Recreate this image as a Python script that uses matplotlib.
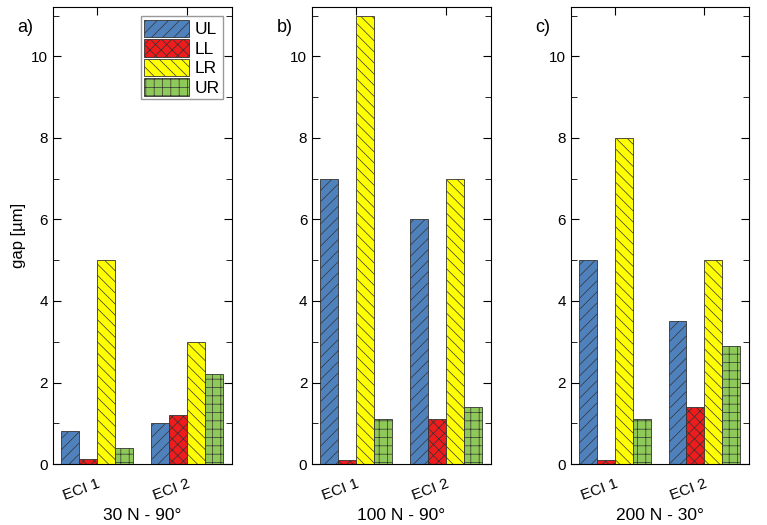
import numpy as np
import matplotlib.pyplot as plt
from matplotlib.ticker import MultipleLocator

plt.rcParams['font.family'] = ['Liberation Sans', 'DejaVu Sans']
plt.rcParams['hatch.linewidth'] = 0.5

categories = ["ECI 1", "ECI 2"]
series = ["UL", "LL", "LR", "UR"]
titles = ["30 N - 90°", "100 N - 90°", "200 N - 30°"]
panel_tags = ["a)", "b)", "c)"]

ul = [[0.8, 1.0], [7.0, 6.0], [5.0, 3.5]]
ll = [[0.12, 1.2], [0.1, 1.1], [0.1, 1.4]]
lr = [[5.0, 3.0], [11.0, 7.0], [8.0, 5.0]]
ur = [[0.4, 2.2], [1.1, 1.4], [1.1, 2.9]]

colors = ["#4f81bd", "#ee1c1c", "#ffff00", "#8fc95a"]
hatches = ["///", "xxx", "\\\\\\", "++"]

fig = plt.figure(figsize=(7.67, 5.25), dpi=100)
lefts = [0.069, 0.407, 0.744]
x = np.arange(1, len(categories) + 1)
w = 0.2

for i in range(3):
    ax = fig.add_axes([lefts[i], 0.116, 0.233, 0.870])
    vals = [ul[i], ll[i], lr[i], ur[i]]
    for j in range(4):
        ax.bar(x + (j - 1.5) * w, vals[j], w, color=colors[j], hatch=hatches[j],
               edgecolor="#333333", linewidth=0.6, label=series[j])
    ax.set_xlim(0.51, 2.5)
    ax.set_ylim(0, 11.2)
    ax.yaxis.set_major_locator(MultipleLocator(2))
    ax.yaxis.set_minor_locator(MultipleLocator(1))
    ax.set_xticks(x)
    ax.set_xticklabels(categories, rotation=20, fontsize=11, ha="right",
                       rotation_mode="anchor")
    ax.tick_params(axis="y", which="both", right=True, direction="in", labelsize=11)
    ax.tick_params(axis="y", which="major", length=6)
    ax.tick_params(axis="y", which="minor", length=4)
    ax.tick_params(axis="x", top=True, bottom=False, direction="in", length=6, pad=9)
    ax.set_xlabel(titles[i], fontsize=12.5, labelpad=4)
    ax.text(-0.2, 0.975, panel_tags[i], transform=ax.transAxes, fontsize=13,
            va="top", ha="left")
    if i == 0:
        ax.set_ylabel("gap [µm]", fontsize=12)
        leg = ax.legend(loc="upper right", fontsize=12.5, handlelength=2.6,
                        handleheight=1.2, fancybox=False, borderpad=0.2,
                        labelspacing=0.1, handletextpad=0.3, borderaxespad=0.5)
        leg.get_frame().set_edgecolor("#999999")
        leg.get_frame().set_alpha(1)

fig.savefig("out.png", dpi=100)
